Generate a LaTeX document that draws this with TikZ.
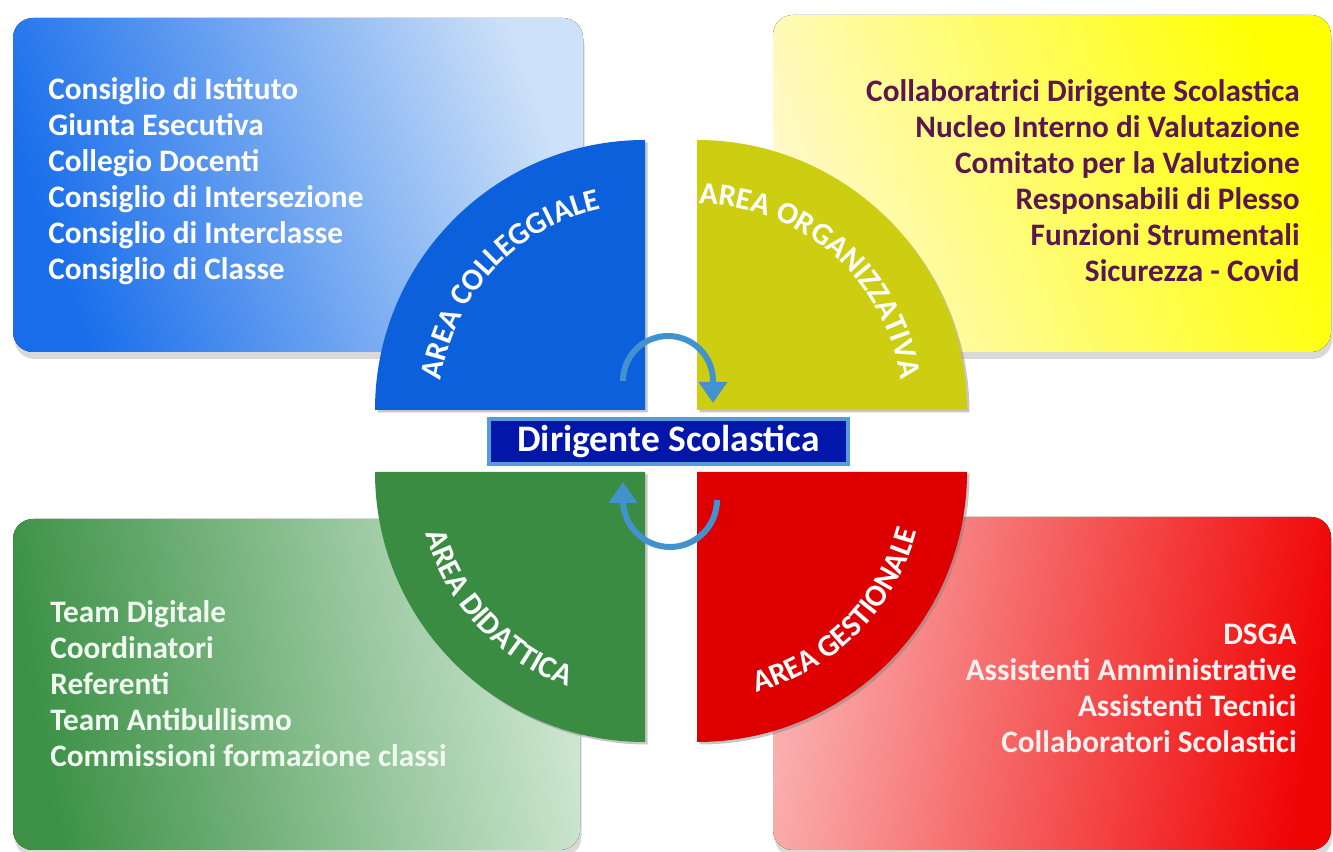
\documentclass[tikz,border=0pt]{standalone}
\usepackage{fontspec}
\setmainfont{Carlito}
\usetikzlibrary{arrows.meta,shadows,decorations.text}

\definecolor{collblue}{RGB}{12,96,220}
\definecolor{orgyellow}{RGB}{205,205,18}
\definecolor{didgreen}{RGB}{58,140,66}
\definecolor{gestred}{RGB}{222,0,0}
\definecolor{plum}{RGB}{92,22,78}
\definecolor{dsnavy}{RGB}{2,22,170}
\definecolor{dsedge}{RGB}{86,156,220}
\definecolor{arrowblue}{RGB}{66,146,208}

\begin{document}
\begin{tikzpicture}[x=0.02cm, y=0.02cm,
    areabox/.style={rounded corners=0.4cm, drop shadow={shadow xshift=0.03cm, shadow yshift=-0.14cm, opacity=0.3}},
    quarter/.style={drop shadow={shadow xshift=0.05cm, shadow yshift=-0.05cm, opacity=0.45}},
    listitem/.style={font=\fontsize{17.8}{20}\selectfont\bfseries, inner sep=0pt},
    arealabel/.style={decorate, decoration={text along path, text align=center, text color=white,
        text={|\fontsize{17.6}{18}\selectfont\bfseries|#1}}},
    cyclearrow/.style={arrowblue, line width=0.12cm, -{Triangle[length=0.42cm, width=0.55cm]}}]
    \useasboundingbox (0,0) rectangle (1333,852);

    % the four boxes
    \fill [areabox, left color={rgb,255:red,25;green,110;blue,235}, middle color={rgb,255:red,80;green,150;blue,240},
        right color={rgb,255:red,205;green,225;blue,248}, shading angle=110] (13,500) rectangle (583,834);
    \fill [areabox, left color={rgb,255:red,255;green,250;blue,200}, right color={rgb,255:red,255;green,255;blue,0},
        shading angle=110] (773,500) rectangle (1331,837);
    \fill [areabox, left color={rgb,255:red,60;green,145;blue,70}, middle color={rgb,255:red,120;green,180;blue,128},
        right color={rgb,255:red,205;green,230;blue,208}, shading angle=100] (13,2) rectangle (580,333);
    \fill [areabox, left color={rgb,255:red,250;green,175;blue,175}, right color={rgb,255:red,240;green,5;blue,5},
        shading angle=80] (773,2) rectangle (1331,335);

    % the four quarters
    \coordinate (collc) at (645,442);
    \coordinate (orgc) at (697,442);
    \coordinate (didc) at (645,380);
    \coordinate (gestc) at (697,380);
    \fill [quarter, collblue] (collc) -- ++(0,270) arc [start angle=90, end angle=180, radius=270] -- cycle;
    \fill [quarter, orgyellow] (orgc) -- ++(270,0) arc [start angle=0, end angle=90, radius=270] -- cycle;
    \fill [quarter, didgreen] (didc) -- ++(-270,0) arc [start angle=180, end angle=270, radius=270] -- cycle;
    \fill [quarter, gestred] (gestc) -- ++(0,-270) arc [start angle=270, end angle=360, radius=270] -- cycle;

    \path [arealabel=AREA COLLEGGIALE] ([shift={(182:206)}]collc) arc [start angle=182, end angle=92, radius=206];
    \path [arealabel=AREA ORGANIZZATIVA] ([shift={(94:206)}]orgc) arc [start angle=94, end angle=4, radius=206];
    \path [arealabel=AREA DIDATTICA] ([shift={(178:228)}]didc) arc [start angle=178, end angle=268, radius=228];
    \path [arealabel=AREA GESTIONALE] ([shift={(270:228)}]gestc) arc [start angle=270, end angle=360, radius=228];

    % lists
    \foreach \t [count=\i] in {Consiglio di Istituto, Giunta Esecutiva, Collegio Docenti,
        Consiglio di Intersezione, Consiglio di Interclasse, Consiglio di Classe}
        \node (coll\i) [listitem, text=white, anchor=base west] at (48, {788-36*\i}) {\t};
    \foreach \t [count=\i] in {Collaboratrici Dirigente Scolastica, Nucleo Interno di Valutazione,
        Comitato per la Valutzione, Responsabili di Plesso, Funzioni Strumentali, Sicurezza - Covid}
        \node (org\i) [listitem, text=plum, anchor=base east] at (1300, {786-36*\i}) {\t};
    \foreach \t [count=\i] in {Team Digitale, Coordinatori, Referenti, Team Antibullismo,
        Commissioni formazione classi}
        \node (did\i) [listitem, text={rgb,255:red,240;green,250;blue,240}, anchor=base west] at (50, {265-36*\i}) {\t};
    \foreach \t [count=\i] in {DSGA, Assistenti Amministrative, Assistenti Tecnici, Collaboratori Scolastici}
        \node (gest\i) [listitem, text={rgb,255:red,255;green,240;blue,240}, anchor=base east] at (1297, {243-36*\i}) {\t};

    % centre
    \node (ds) [draw=dsedge, line width=0.08cm, fill=dsnavy, text=white, inner sep=0pt,
        font=\fontsize{21.3}{21}\selectfont\bfseries, minimum width=7.18cm, minimum height=0.9cm] at (668.5,410.5)
        {Dirigente Scolastica};

    \coordinate (upa) at (623,471);
    \coordinate (loa) at (717,352);
    \draw [cyclearrow] (upa) arc [start angle=180, end angle=0, radius=45] -- ++(0,-22);
    \draw [cyclearrow] (loa) arc [start angle=0, end angle=-180, radius=47] -- ++(0,18);
\end{tikzpicture}
\end{document}
